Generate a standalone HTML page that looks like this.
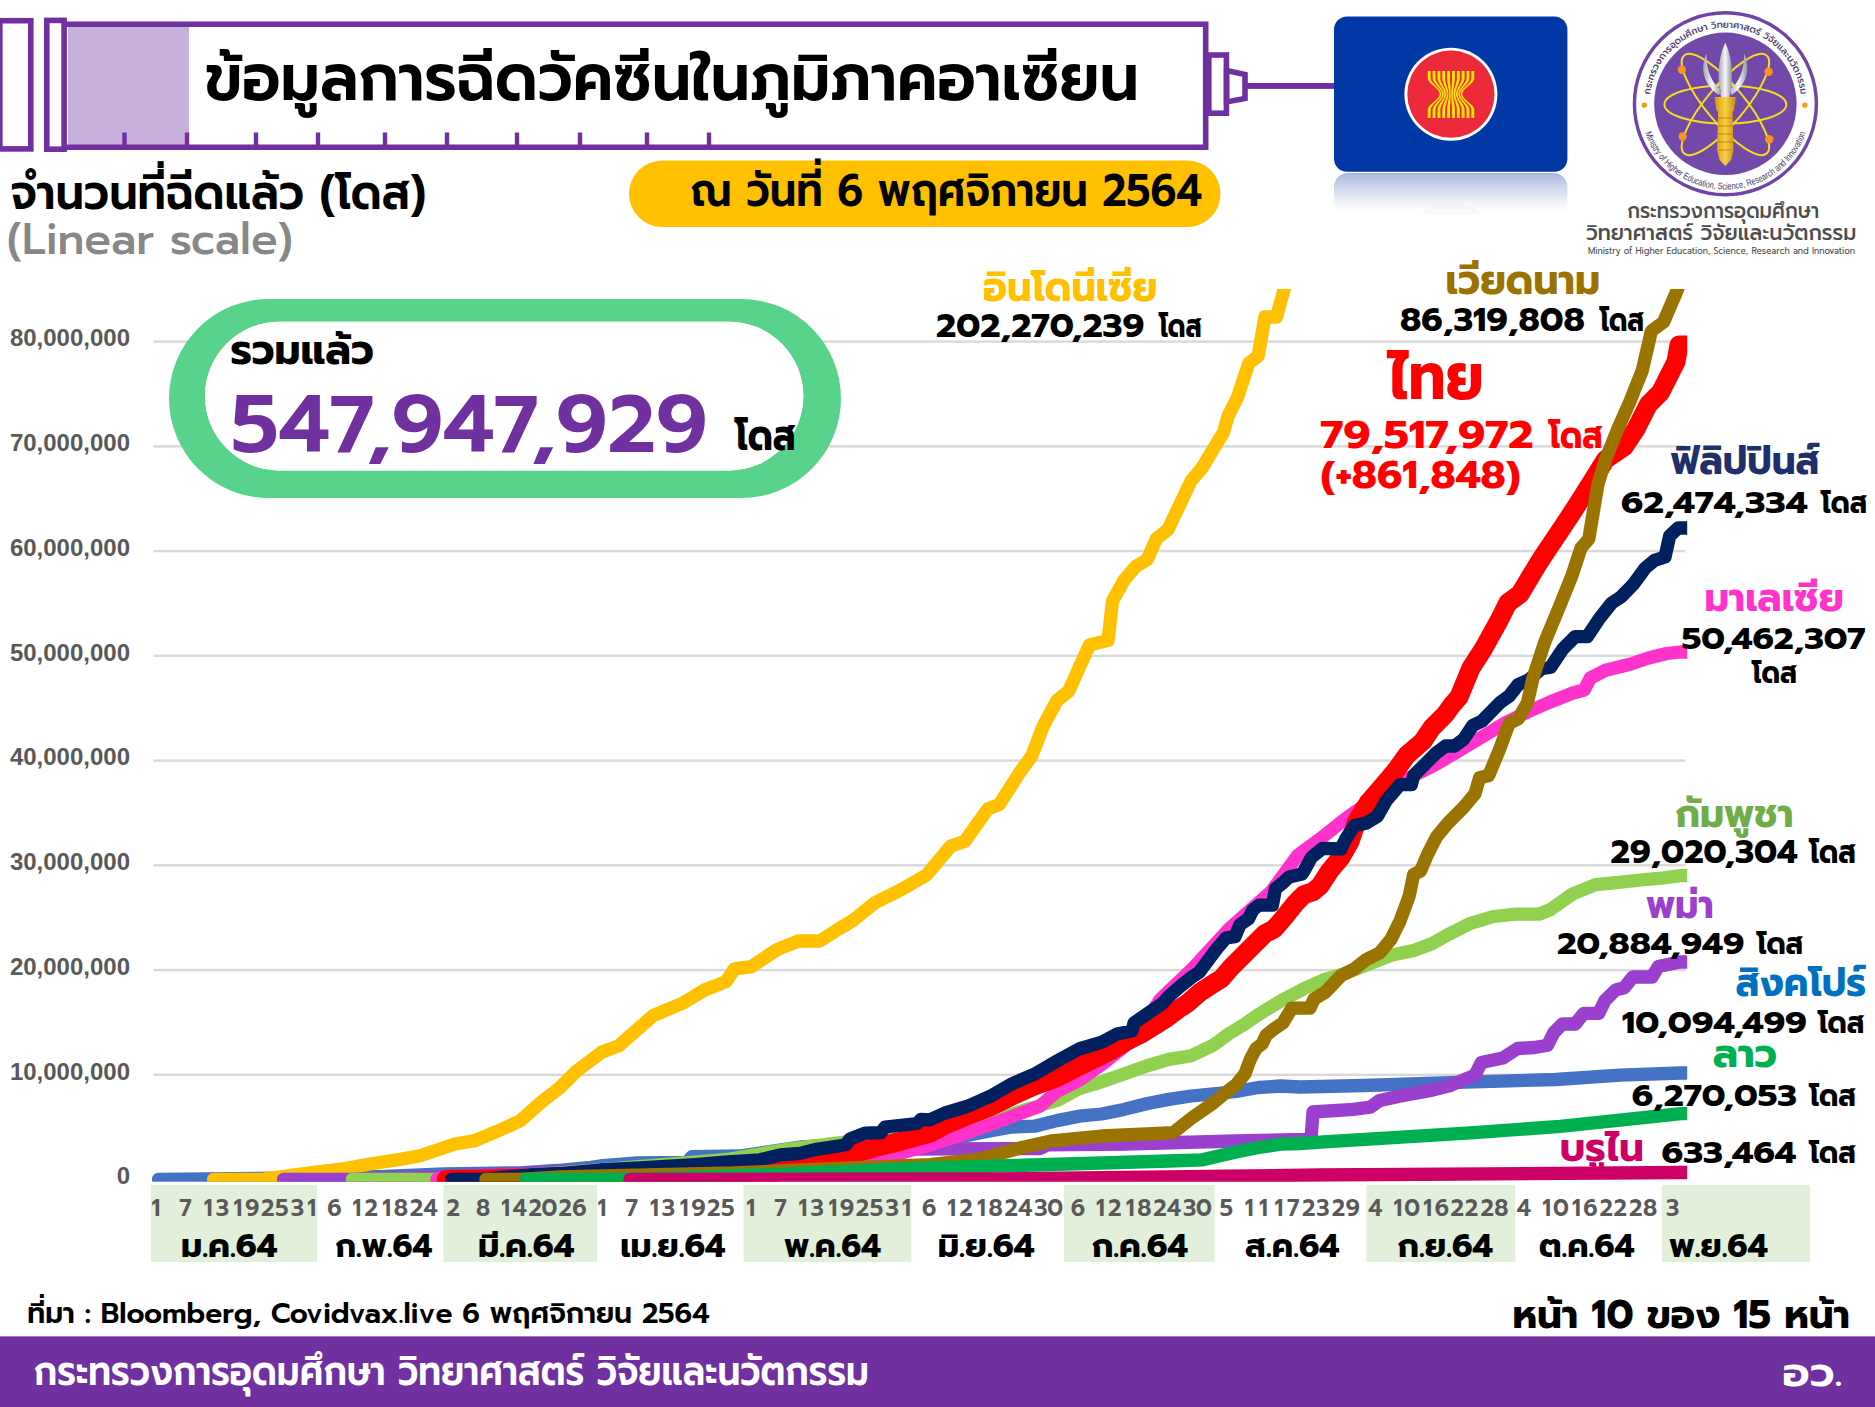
<!DOCTYPE html><html><head><meta charset="utf-8"><title>ข้อมูลการฉีดวัคซีนในภูมิภาคอาเซียน</title><style>html,body{margin:0;padding:0;background:#fff}svg{display:block}text{font-family:Prompt, 'Liberation Sans', 'Noto Sans CJK SC', sans-serif}</style></head><body>
<svg width="1875" height="1407" viewBox="0 0 1875 1407">
<rect width="1875" height="1407" fill="#fff"/>
<rect x="68" y="26" width="121" height="119" fill="#C8B0DD"/>
<rect x="-0.2" y="20.7" width="31" height="128.2" fill="none" stroke="#7030A0" stroke-width="5.6"/>
<rect x="46.8" y="20.4" width="17.3" height="128.8" fill="none" stroke="#7030A0" stroke-width="5.6"/>
<path d="M66 24.2 H1205.7 V147.3 H66" fill="none" stroke="#7030A0" stroke-width="5.6"/>
<rect x="122.3" y="132.5" width="4.4" height="13" fill="#7030A0"/>
<rect x="184.8" y="132.5" width="4.4" height="13" fill="#7030A0"/>
<rect x="253.8" y="132.5" width="4.4" height="13" fill="#7030A0"/>
<rect x="315.8" y="132.5" width="4.4" height="13" fill="#7030A0"/>
<rect x="382.8" y="132.5" width="4.4" height="13" fill="#7030A0"/>
<rect x="444.8" y="132.5" width="4.4" height="13" fill="#7030A0"/>
<rect x="514.8" y="132.5" width="4.4" height="13" fill="#7030A0"/>
<rect x="577.8" y="132.5" width="4.4" height="13" fill="#7030A0"/>
<rect x="644.8" y="132.5" width="4.4" height="13" fill="#7030A0"/>
<rect x="706.8" y="132.5" width="4.4" height="13" fill="#7030A0"/>
<rect x="1208.8" y="55" width="17.6" height="58.2" fill="none" stroke="#7030A0" stroke-width="5.6"/>
<path d="M1226.6 70.6 L1245 74.6 V98.4 L1226.6 101.9 Z" fill="none" stroke="#7030A0" stroke-width="5.6" stroke-linejoin="miter"/>
<rect x="1247" y="83" width="90" height="5.9" fill="#7030A0"/>
<defs><linearGradient id="refl" x1="0" y1="0" x2="0" y2="1"><stop offset="0" stop-color="#A6B7DD" stop-opacity="1"/><stop offset="0.5" stop-color="#D6DEF0" stop-opacity="0.8"/><stop offset="1" stop-color="#fff" stop-opacity="0"/></linearGradient><clipPath id="plot"><rect x="140" y="289" width="1547.2" height="892.8"/></clipPath></defs>
<path d="M1334 187 A14 14 0 0 1 1348 173 H1553.4 A14 14 0 0 1 1567.4 187 V217 H1334 Z" fill="url(#refl)"/>
<path d="M1422 215 A29 12 0 0 1 1480 215 Z" fill="#F6D6DA" opacity="0.18"/>
<rect x="1334" y="16.5" width="233.4" height="155.2" rx="13" fill="#0039A6"/>
<circle cx="1450.9" cy="94.2" r="46.5" fill="#fff"/><circle cx="1450.9" cy="94.2" r="43.6" fill="#EC2A39"/>
<path d="M1427.75 71.0 L1427.75 71.5 L1427.75 72.0 L1427.75 72.5 L1427.75 73.0 L1427.75 73.5 L1427.75 74.0 L1427.75 74.5 L1427.75 75.0 L1427.75 75.5 L1427.75 76.0 L1427.75 76.5 L1427.75 77.0 L1427.75 77.5 L1427.75 78.0 L1427.78 78.5 L1427.86 79.0 L1428.01 79.5 L1428.20 80.0 L1428.45 80.5 L1428.75 81.0 L1429.10 81.5 L1429.49 82.0 L1429.93 82.5 L1430.39 83.0 L1430.90 83.5 L1431.42 84.0 L1431.97 84.5 L1432.54 85.0 L1433.12 85.5 L1433.70 86.0 L1434.28 86.5 L1434.86 87.0 L1435.43 87.5 L1435.98 88.0 L1436.50 88.5 L1437.01 89.0 L1437.47 89.5 L1437.91 90.0 L1438.30 90.5 L1438.65 91.0 L1438.95 91.5 L1439.20 92.0 L1439.39 92.5 L1439.54 93.0 L1439.62 93.5 L1439.65 94.0 L1439.62 94.5 L1439.54 95.0 L1439.39 95.5 L1439.20 96.0 L1438.95 96.5 L1438.65 97.0 L1438.30 97.5 L1437.91 98.0 L1437.47 98.5 L1437.01 99.0 L1436.50 99.5 L1435.98 100.0 L1435.43 100.5 L1434.86 101.0 L1434.28 101.5 L1433.70 102.0 L1433.12 102.5 L1432.54 103.0 L1431.97 103.5 L1431.42 104.0 L1430.90 104.5 L1430.39 105.0 L1429.93 105.5 L1429.49 106.0 L1429.10 106.5 L1428.75 107.0 L1428.45 107.5 L1428.20 108.0 L1428.01 108.5 L1427.86 109.0 L1427.78 109.5 L1427.75 110.0 L1427.75 110.5 L1427.75 111.0 L1427.75 111.5 L1427.75 112.0 L1427.75 112.5 L1427.75 113.0 L1427.75 113.5 L1427.75 114.0 L1427.75 114.5 L1427.75 115.0 L1427.75 115.5 L1427.75 116.0 L1427.75 116.5 L1427.75 117.0 L1427.75 117.5 L1427.75 118.0 L1430.65 118.0 L1430.65 117.5 L1430.65 117.0 L1430.65 116.5 L1430.65 116.0 L1430.65 115.5 L1430.65 115.0 L1430.65 114.5 L1430.65 114.0 L1430.65 113.5 L1430.65 113.0 L1430.65 112.5 L1430.65 112.0 L1430.65 111.5 L1430.65 111.0 L1430.65 110.5 L1430.65 110.0 L1430.68 109.5 L1430.75 109.0 L1430.88 108.5 L1431.06 108.0 L1431.28 107.5 L1431.55 107.0 L1431.86 106.5 L1432.22 106.0 L1432.61 105.5 L1433.03 105.0 L1433.48 104.5 L1433.95 104.0 L1434.45 103.5 L1434.96 103.0 L1435.48 102.5 L1436.00 102.0 L1436.52 101.5 L1437.04 101.0 L1437.55 100.5 L1438.05 100.0 L1438.52 99.5 L1438.97 99.0 L1439.39 98.5 L1439.78 98.0 L1440.14 97.5 L1440.45 97.0 L1440.72 96.5 L1440.94 96.0 L1441.12 95.5 L1441.25 95.0 L1441.32 94.5 L1441.35 94.0 L1441.32 93.5 L1441.25 93.0 L1441.12 92.5 L1440.94 92.0 L1440.72 91.5 L1440.45 91.0 L1440.14 90.5 L1439.78 90.0 L1439.39 89.5 L1438.97 89.0 L1438.52 88.5 L1438.05 88.0 L1437.55 87.5 L1437.04 87.0 L1436.52 86.5 L1436.00 86.0 L1435.48 85.5 L1434.96 85.0 L1434.45 84.5 L1433.95 84.0 L1433.48 83.5 L1433.03 83.0 L1432.61 82.5 L1432.22 82.0 L1431.86 81.5 L1431.55 81.0 L1431.28 80.5 L1431.06 80.0 L1430.88 79.5 L1430.75 79.0 L1430.68 78.5 L1430.65 78.0 L1430.65 77.5 L1430.65 77.0 L1430.65 76.5 L1430.65 76.0 L1430.65 75.5 L1430.65 75.0 L1430.65 74.5 L1430.65 74.0 L1430.65 73.5 L1430.65 73.0 L1430.65 72.5 L1430.65 72.0 L1430.65 71.5 L1430.65 71.0 Z" fill="#FFE500"/><path d="M1432.59 71.0 L1432.59 71.5 L1432.59 72.0 L1432.59 72.5 L1432.59 73.0 L1432.59 73.5 L1432.59 74.0 L1432.59 74.5 L1432.59 75.0 L1432.59 75.5 L1432.59 76.0 L1432.59 76.5 L1432.59 77.0 L1432.59 77.5 L1432.59 78.0 L1432.62 78.5 L1432.68 79.0 L1432.80 79.5 L1432.95 80.0 L1433.15 80.5 L1433.39 81.0 L1433.66 81.5 L1433.97 82.0 L1434.31 82.5 L1434.68 83.0 L1435.08 83.5 L1435.49 84.0 L1435.93 84.5 L1436.37 85.0 L1436.83 85.5 L1437.29 86.0 L1437.75 86.5 L1438.20 87.0 L1438.65 87.5 L1439.09 88.0 L1439.50 88.5 L1439.90 89.0 L1440.27 89.5 L1440.61 90.0 L1440.92 90.5 L1441.19 91.0 L1441.43 91.5 L1441.63 92.0 L1441.78 92.5 L1441.89 93.0 L1441.96 93.5 L1441.98 94.0 L1441.96 94.5 L1441.89 95.0 L1441.78 95.5 L1441.63 96.0 L1441.43 96.5 L1441.19 97.0 L1440.92 97.5 L1440.61 98.0 L1440.27 98.5 L1439.90 99.0 L1439.50 99.5 L1439.09 100.0 L1438.65 100.5 L1438.20 101.0 L1437.75 101.5 L1437.29 102.0 L1436.83 102.5 L1436.37 103.0 L1435.93 103.5 L1435.49 104.0 L1435.08 104.5 L1434.68 105.0 L1434.31 105.5 L1433.97 106.0 L1433.66 106.5 L1433.39 107.0 L1433.15 107.5 L1432.95 108.0 L1432.80 108.5 L1432.68 109.0 L1432.62 109.5 L1432.59 110.0 L1432.59 110.5 L1432.59 111.0 L1432.59 111.5 L1432.59 112.0 L1432.59 112.5 L1432.59 113.0 L1432.59 113.5 L1432.59 114.0 L1432.59 114.5 L1432.59 115.0 L1432.59 115.5 L1432.59 116.0 L1432.59 116.5 L1432.59 117.0 L1432.59 117.5 L1432.59 118.0 L1435.49 118.0 L1435.49 117.5 L1435.49 117.0 L1435.49 116.5 L1435.49 116.0 L1435.49 115.5 L1435.49 115.0 L1435.49 114.5 L1435.49 114.0 L1435.49 113.5 L1435.49 113.0 L1435.49 112.5 L1435.49 112.0 L1435.49 111.5 L1435.49 111.0 L1435.49 110.5 L1435.49 110.0 L1435.51 109.5 L1435.57 109.0 L1435.67 108.5 L1435.81 108.0 L1435.98 107.5 L1436.18 107.0 L1436.42 106.5 L1436.69 106.0 L1436.99 105.5 L1437.31 105.0 L1437.66 104.5 L1438.02 104.0 L1438.40 103.5 L1438.79 103.0 L1439.19 102.5 L1439.59 102.0 L1439.99 101.5 L1440.39 101.0 L1440.78 100.5 L1441.16 100.0 L1441.52 99.5 L1441.86 99.0 L1442.19 98.5 L1442.48 98.0 L1442.75 97.5 L1442.99 97.0 L1443.20 96.5 L1443.37 96.0 L1443.51 95.5 L1443.60 95.0 L1443.66 94.5 L1443.68 94.0 L1443.66 93.5 L1443.60 93.0 L1443.51 92.5 L1443.37 92.0 L1443.20 91.5 L1442.99 91.0 L1442.75 90.5 L1442.48 90.0 L1442.19 89.5 L1441.86 89.0 L1441.52 88.5 L1441.16 88.0 L1440.78 87.5 L1440.39 87.0 L1439.99 86.5 L1439.59 86.0 L1439.19 85.5 L1438.79 85.0 L1438.40 84.5 L1438.02 84.0 L1437.66 83.5 L1437.31 83.0 L1436.99 82.5 L1436.69 82.0 L1436.42 81.5 L1436.18 81.0 L1435.98 80.5 L1435.81 80.0 L1435.67 79.5 L1435.57 79.0 L1435.51 78.5 L1435.49 78.0 L1435.49 77.5 L1435.49 77.0 L1435.49 76.5 L1435.49 76.0 L1435.49 75.5 L1435.49 75.0 L1435.49 74.5 L1435.49 74.0 L1435.49 73.5 L1435.49 73.0 L1435.49 72.5 L1435.49 72.0 L1435.49 71.5 L1435.49 71.0 Z" fill="#FFE500"/><path d="M1437.44 71.0 L1437.44 71.5 L1437.44 72.0 L1437.44 72.5 L1437.44 73.0 L1437.44 73.5 L1437.44 74.0 L1437.44 74.5 L1437.44 75.0 L1437.44 75.5 L1437.44 76.0 L1437.44 76.5 L1437.44 77.0 L1437.44 77.5 L1437.44 78.0 L1437.46 78.5 L1437.50 79.0 L1437.59 79.5 L1437.70 80.0 L1437.84 80.5 L1438.02 81.0 L1438.22 81.5 L1438.45 82.0 L1438.70 82.5 L1438.97 83.0 L1439.26 83.5 L1439.56 84.0 L1439.88 84.5 L1440.21 85.0 L1440.54 85.5 L1440.88 86.0 L1441.21 86.5 L1441.55 87.0 L1441.88 87.5 L1442.19 88.0 L1442.50 88.5 L1442.79 89.0 L1443.06 89.5 L1443.31 90.0 L1443.54 90.5 L1443.74 91.0 L1443.91 91.5 L1444.05 92.0 L1444.17 92.5 L1444.25 93.0 L1444.30 93.5 L1444.32 94.0 L1444.30 94.5 L1444.25 95.0 L1444.17 95.5 L1444.05 96.0 L1443.91 96.5 L1443.74 97.0 L1443.54 97.5 L1443.31 98.0 L1443.06 98.5 L1442.79 99.0 L1442.50 99.5 L1442.19 100.0 L1441.88 100.5 L1441.55 101.0 L1441.21 101.5 L1440.88 102.0 L1440.54 102.5 L1440.21 103.0 L1439.88 103.5 L1439.56 104.0 L1439.26 104.5 L1438.97 105.0 L1438.70 105.5 L1438.45 106.0 L1438.22 106.5 L1438.02 107.0 L1437.84 107.5 L1437.70 108.0 L1437.59 108.5 L1437.50 109.0 L1437.46 109.5 L1437.44 110.0 L1437.44 110.5 L1437.44 111.0 L1437.44 111.5 L1437.44 112.0 L1437.44 112.5 L1437.44 113.0 L1437.44 113.5 L1437.44 114.0 L1437.44 114.5 L1437.44 115.0 L1437.44 115.5 L1437.44 116.0 L1437.44 116.5 L1437.44 117.0 L1437.44 117.5 L1437.44 118.0 L1440.34 118.0 L1440.34 117.5 L1440.34 117.0 L1440.34 116.5 L1440.34 116.0 L1440.34 115.5 L1440.34 115.0 L1440.34 114.5 L1440.34 114.0 L1440.34 113.5 L1440.34 113.0 L1440.34 112.5 L1440.34 112.0 L1440.34 111.5 L1440.34 111.0 L1440.34 110.5 L1440.34 110.0 L1440.35 109.5 L1440.39 109.0 L1440.46 108.5 L1440.55 108.0 L1440.67 107.5 L1440.82 107.0 L1440.98 106.5 L1441.17 106.0 L1441.38 105.5 L1441.60 105.0 L1441.84 104.5 L1442.09 104.0 L1442.35 103.5 L1442.62 103.0 L1442.90 102.5 L1443.18 102.0 L1443.46 101.5 L1443.73 101.0 L1444.00 100.5 L1444.26 100.0 L1444.52 99.5 L1444.75 99.0 L1444.98 98.5 L1445.19 98.0 L1445.37 97.5 L1445.54 97.0 L1445.68 96.5 L1445.80 96.0 L1445.89 95.5 L1445.96 95.0 L1446.00 94.5 L1446.02 94.0 L1446.00 93.5 L1445.96 93.0 L1445.89 92.5 L1445.80 92.0 L1445.68 91.5 L1445.54 91.0 L1445.37 90.5 L1445.19 90.0 L1444.98 89.5 L1444.75 89.0 L1444.52 88.5 L1444.26 88.0 L1444.00 87.5 L1443.73 87.0 L1443.46 86.5 L1443.18 86.0 L1442.90 85.5 L1442.62 85.0 L1442.35 84.5 L1442.09 84.0 L1441.84 83.5 L1441.60 83.0 L1441.38 82.5 L1441.17 82.0 L1440.98 81.5 L1440.82 81.0 L1440.67 80.5 L1440.55 80.0 L1440.46 79.5 L1440.39 79.0 L1440.35 78.5 L1440.34 78.0 L1440.34 77.5 L1440.34 77.0 L1440.34 76.5 L1440.34 76.0 L1440.34 75.5 L1440.34 75.0 L1440.34 74.5 L1440.34 74.0 L1440.34 73.5 L1440.34 73.0 L1440.34 72.5 L1440.34 72.0 L1440.34 71.5 L1440.34 71.0 Z" fill="#FFE500"/><path d="M1442.28 71.0 L1442.28 71.5 L1442.28 72.0 L1442.28 72.5 L1442.28 73.0 L1442.28 73.5 L1442.28 74.0 L1442.28 74.5 L1442.28 75.0 L1442.28 75.5 L1442.28 76.0 L1442.28 76.5 L1442.28 77.0 L1442.28 77.5 L1442.28 78.0 L1442.29 78.5 L1442.33 79.0 L1442.38 79.5 L1442.45 80.0 L1442.54 80.5 L1442.65 81.0 L1442.78 81.5 L1442.92 82.0 L1443.08 82.5 L1443.25 83.0 L1443.44 83.5 L1443.63 84.0 L1443.83 84.5 L1444.04 85.0 L1444.25 85.5 L1444.47 86.0 L1444.68 86.5 L1444.89 87.0 L1445.10 87.5 L1445.30 88.0 L1445.50 88.5 L1445.68 89.0 L1445.85 89.5 L1446.01 90.0 L1446.15 90.5 L1446.28 91.0 L1446.39 91.5 L1446.48 92.0 L1446.56 92.5 L1446.61 93.0 L1446.64 93.5 L1446.65 94.0 L1446.64 94.5 L1446.61 95.0 L1446.56 95.5 L1446.48 96.0 L1446.39 96.5 L1446.28 97.0 L1446.15 97.5 L1446.01 98.0 L1445.85 98.5 L1445.68 99.0 L1445.50 99.5 L1445.30 100.0 L1445.10 100.5 L1444.89 101.0 L1444.68 101.5 L1444.47 102.0 L1444.25 102.5 L1444.04 103.0 L1443.83 103.5 L1443.63 104.0 L1443.44 104.5 L1443.25 105.0 L1443.08 105.5 L1442.92 106.0 L1442.78 106.5 L1442.65 107.0 L1442.54 107.5 L1442.45 108.0 L1442.38 108.5 L1442.33 109.0 L1442.29 109.5 L1442.28 110.0 L1442.28 110.5 L1442.28 111.0 L1442.28 111.5 L1442.28 112.0 L1442.28 112.5 L1442.28 113.0 L1442.28 113.5 L1442.28 114.0 L1442.28 114.5 L1442.28 115.0 L1442.28 115.5 L1442.28 116.0 L1442.28 116.5 L1442.28 117.0 L1442.28 117.5 L1442.28 118.0 L1445.18 118.0 L1445.18 117.5 L1445.18 117.0 L1445.18 116.5 L1445.18 116.0 L1445.18 115.5 L1445.18 115.0 L1445.18 114.5 L1445.18 114.0 L1445.18 113.5 L1445.18 113.0 L1445.18 112.5 L1445.18 112.0 L1445.18 111.5 L1445.18 111.0 L1445.18 110.5 L1445.18 110.0 L1445.19 109.5 L1445.21 109.0 L1445.25 108.5 L1445.30 108.0 L1445.37 107.5 L1445.45 107.0 L1445.54 106.5 L1445.65 106.0 L1445.76 105.5 L1445.89 105.0 L1446.02 104.5 L1446.16 104.0 L1446.31 103.5 L1446.46 103.0 L1446.61 102.5 L1446.77 102.0 L1446.92 101.5 L1447.08 101.0 L1447.23 100.5 L1447.37 100.0 L1447.51 99.5 L1447.65 99.0 L1447.77 98.5 L1447.89 98.0 L1447.99 97.5 L1448.08 97.0 L1448.16 96.5 L1448.23 96.0 L1448.28 95.5 L1448.32 95.0 L1448.34 94.5 L1448.35 94.0 L1448.34 93.5 L1448.32 93.0 L1448.28 92.5 L1448.23 92.0 L1448.16 91.5 L1448.08 91.0 L1447.99 90.5 L1447.89 90.0 L1447.77 89.5 L1447.65 89.0 L1447.51 88.5 L1447.37 88.0 L1447.23 87.5 L1447.08 87.0 L1446.92 86.5 L1446.77 86.0 L1446.61 85.5 L1446.46 85.0 L1446.31 84.5 L1446.16 84.0 L1446.02 83.5 L1445.89 83.0 L1445.76 82.5 L1445.65 82.0 L1445.54 81.5 L1445.45 81.0 L1445.37 80.5 L1445.30 80.0 L1445.25 79.5 L1445.21 79.0 L1445.19 78.5 L1445.18 78.0 L1445.18 77.5 L1445.18 77.0 L1445.18 76.5 L1445.18 76.0 L1445.18 75.5 L1445.18 75.0 L1445.18 74.5 L1445.18 74.0 L1445.18 73.5 L1445.18 73.0 L1445.18 72.5 L1445.18 72.0 L1445.18 71.5 L1445.18 71.0 Z" fill="#FFE500"/><path d="M1447.13 71.0 L1447.13 71.5 L1447.13 72.0 L1447.13 72.5 L1447.13 73.0 L1447.13 73.5 L1447.13 74.0 L1447.13 74.5 L1447.13 75.0 L1447.13 75.5 L1447.13 76.0 L1447.13 76.5 L1447.13 77.0 L1447.13 77.5 L1447.13 78.0 L1447.13 78.5 L1447.15 79.0 L1447.17 79.5 L1447.20 80.0 L1447.24 80.5 L1447.28 81.0 L1447.34 81.5 L1447.40 82.0 L1447.47 82.5 L1447.54 83.0 L1447.62 83.5 L1447.70 84.0 L1447.79 84.5 L1447.87 85.0 L1447.96 85.5 L1448.06 86.0 L1448.15 86.5 L1448.24 87.0 L1448.32 87.5 L1448.41 88.0 L1448.49 88.5 L1448.57 89.0 L1448.64 89.5 L1448.71 90.0 L1448.77 90.5 L1448.83 91.0 L1448.87 91.5 L1448.91 92.0 L1448.94 92.5 L1448.97 93.0 L1448.98 93.5 L1448.98 94.0 L1448.98 94.5 L1448.97 95.0 L1448.94 95.5 L1448.91 96.0 L1448.87 96.5 L1448.83 97.0 L1448.77 97.5 L1448.71 98.0 L1448.64 98.5 L1448.57 99.0 L1448.49 99.5 L1448.41 100.0 L1448.32 100.5 L1448.24 101.0 L1448.15 101.5 L1448.06 102.0 L1447.96 102.5 L1447.87 103.0 L1447.79 103.5 L1447.70 104.0 L1447.62 104.5 L1447.54 105.0 L1447.47 105.5 L1447.40 106.0 L1447.34 106.5 L1447.28 107.0 L1447.24 107.5 L1447.20 108.0 L1447.17 108.5 L1447.15 109.0 L1447.13 109.5 L1447.13 110.0 L1447.13 110.5 L1447.13 111.0 L1447.13 111.5 L1447.13 112.0 L1447.13 112.5 L1447.13 113.0 L1447.13 113.5 L1447.13 114.0 L1447.13 114.5 L1447.13 115.0 L1447.13 115.5 L1447.13 116.0 L1447.13 116.5 L1447.13 117.0 L1447.13 117.5 L1447.13 118.0 L1450.03 118.0 L1450.03 117.5 L1450.03 117.0 L1450.03 116.5 L1450.03 116.0 L1450.03 115.5 L1450.03 115.0 L1450.03 114.5 L1450.03 114.0 L1450.03 113.5 L1450.03 113.0 L1450.03 112.5 L1450.03 112.0 L1450.03 111.5 L1450.03 111.0 L1450.03 110.5 L1450.03 110.0 L1450.03 109.5 L1450.03 109.0 L1450.04 108.5 L1450.05 108.0 L1450.07 107.5 L1450.08 107.0 L1450.10 106.5 L1450.12 106.0 L1450.15 105.5 L1450.17 105.0 L1450.20 104.5 L1450.23 104.0 L1450.26 103.5 L1450.29 103.0 L1450.32 102.5 L1450.36 102.0 L1450.39 101.5 L1450.42 101.0 L1450.45 100.5 L1450.48 100.0 L1450.51 99.5 L1450.54 99.0 L1450.56 98.5 L1450.59 98.0 L1450.61 97.5 L1450.63 97.0 L1450.64 96.5 L1450.66 96.0 L1450.67 95.5 L1450.68 95.0 L1450.68 94.5 L1450.68 94.0 L1450.68 93.5 L1450.68 93.0 L1450.67 92.5 L1450.66 92.0 L1450.64 91.5 L1450.63 91.0 L1450.61 90.5 L1450.59 90.0 L1450.56 89.5 L1450.54 89.0 L1450.51 88.5 L1450.48 88.0 L1450.45 87.5 L1450.42 87.0 L1450.39 86.5 L1450.36 86.0 L1450.32 85.5 L1450.29 85.0 L1450.26 84.5 L1450.23 84.0 L1450.20 83.5 L1450.17 83.0 L1450.15 82.5 L1450.12 82.0 L1450.10 81.5 L1450.08 81.0 L1450.07 80.5 L1450.05 80.0 L1450.04 79.5 L1450.03 79.0 L1450.03 78.5 L1450.03 78.0 L1450.03 77.5 L1450.03 77.0 L1450.03 76.5 L1450.03 76.0 L1450.03 75.5 L1450.03 75.0 L1450.03 74.5 L1450.03 74.0 L1450.03 73.5 L1450.03 73.0 L1450.03 72.5 L1450.03 72.0 L1450.03 71.5 L1450.03 71.0 Z" fill="#FFE500"/><path d="M1451.97 71.0 L1451.97 71.5 L1451.97 72.0 L1451.97 72.5 L1451.97 73.0 L1451.97 73.5 L1451.97 74.0 L1451.97 74.5 L1451.97 75.0 L1451.97 75.5 L1451.97 76.0 L1451.97 76.5 L1451.97 77.0 L1451.97 77.5 L1451.97 78.0 L1451.97 78.5 L1451.97 79.0 L1451.96 79.5 L1451.95 80.0 L1451.93 80.5 L1451.92 81.0 L1451.90 81.5 L1451.88 82.0 L1451.85 82.5 L1451.83 83.0 L1451.80 83.5 L1451.77 84.0 L1451.74 84.5 L1451.71 85.0 L1451.68 85.5 L1451.64 86.0 L1451.61 86.5 L1451.58 87.0 L1451.55 87.5 L1451.52 88.0 L1451.49 88.5 L1451.46 89.0 L1451.44 89.5 L1451.41 90.0 L1451.39 90.5 L1451.37 91.0 L1451.36 91.5 L1451.34 92.0 L1451.33 92.5 L1451.32 93.0 L1451.32 93.5 L1451.32 94.0 L1451.32 94.5 L1451.32 95.0 L1451.33 95.5 L1451.34 96.0 L1451.36 96.5 L1451.37 97.0 L1451.39 97.5 L1451.41 98.0 L1451.44 98.5 L1451.46 99.0 L1451.49 99.5 L1451.52 100.0 L1451.55 100.5 L1451.58 101.0 L1451.61 101.5 L1451.64 102.0 L1451.68 102.5 L1451.71 103.0 L1451.74 103.5 L1451.77 104.0 L1451.80 104.5 L1451.83 105.0 L1451.85 105.5 L1451.88 106.0 L1451.90 106.5 L1451.92 107.0 L1451.93 107.5 L1451.95 108.0 L1451.96 108.5 L1451.97 109.0 L1451.97 109.5 L1451.97 110.0 L1451.97 110.5 L1451.97 111.0 L1451.97 111.5 L1451.97 112.0 L1451.97 112.5 L1451.97 113.0 L1451.97 113.5 L1451.97 114.0 L1451.97 114.5 L1451.97 115.0 L1451.97 115.5 L1451.97 116.0 L1451.97 116.5 L1451.97 117.0 L1451.97 117.5 L1451.97 118.0 L1454.87 118.0 L1454.87 117.5 L1454.87 117.0 L1454.87 116.5 L1454.87 116.0 L1454.87 115.5 L1454.87 115.0 L1454.87 114.5 L1454.87 114.0 L1454.87 113.5 L1454.87 113.0 L1454.87 112.5 L1454.87 112.0 L1454.87 111.5 L1454.87 111.0 L1454.87 110.5 L1454.87 110.0 L1454.87 109.5 L1454.85 109.0 L1454.83 108.5 L1454.80 108.0 L1454.76 107.5 L1454.72 107.0 L1454.66 106.5 L1454.60 106.0 L1454.53 105.5 L1454.46 105.0 L1454.38 104.5 L1454.30 104.0 L1454.21 103.5 L1454.13 103.0 L1454.04 102.5 L1453.94 102.0 L1453.85 101.5 L1453.76 101.0 L1453.68 100.5 L1453.59 100.0 L1453.51 99.5 L1453.43 99.0 L1453.36 98.5 L1453.29 98.0 L1453.23 97.5 L1453.17 97.0 L1453.13 96.5 L1453.09 96.0 L1453.06 95.5 L1453.03 95.0 L1453.02 94.5 L1453.02 94.0 L1453.02 93.5 L1453.03 93.0 L1453.06 92.5 L1453.09 92.0 L1453.13 91.5 L1453.17 91.0 L1453.23 90.5 L1453.29 90.0 L1453.36 89.5 L1453.43 89.0 L1453.51 88.5 L1453.59 88.0 L1453.68 87.5 L1453.76 87.0 L1453.85 86.5 L1453.94 86.0 L1454.04 85.5 L1454.13 85.0 L1454.21 84.5 L1454.30 84.0 L1454.38 83.5 L1454.46 83.0 L1454.53 82.5 L1454.60 82.0 L1454.66 81.5 L1454.72 81.0 L1454.76 80.5 L1454.80 80.0 L1454.83 79.5 L1454.85 79.0 L1454.87 78.5 L1454.87 78.0 L1454.87 77.5 L1454.87 77.0 L1454.87 76.5 L1454.87 76.0 L1454.87 75.5 L1454.87 75.0 L1454.87 74.5 L1454.87 74.0 L1454.87 73.5 L1454.87 73.0 L1454.87 72.5 L1454.87 72.0 L1454.87 71.5 L1454.87 71.0 Z" fill="#FFE500"/><path d="M1456.82 71.0 L1456.82 71.5 L1456.82 72.0 L1456.82 72.5 L1456.82 73.0 L1456.82 73.5 L1456.82 74.0 L1456.82 74.5 L1456.82 75.0 L1456.82 75.5 L1456.82 76.0 L1456.82 76.5 L1456.82 77.0 L1456.82 77.5 L1456.82 78.0 L1456.81 78.5 L1456.79 79.0 L1456.75 79.5 L1456.70 80.0 L1456.63 80.5 L1456.55 81.0 L1456.46 81.5 L1456.35 82.0 L1456.24 82.5 L1456.11 83.0 L1455.98 83.5 L1455.84 84.0 L1455.69 84.5 L1455.54 85.0 L1455.39 85.5 L1455.23 86.0 L1455.08 86.5 L1454.92 87.0 L1454.77 87.5 L1454.63 88.0 L1454.49 88.5 L1454.35 89.0 L1454.23 89.5 L1454.11 90.0 L1454.01 90.5 L1453.92 91.0 L1453.84 91.5 L1453.77 92.0 L1453.72 92.5 L1453.68 93.0 L1453.66 93.5 L1453.65 94.0 L1453.66 94.5 L1453.68 95.0 L1453.72 95.5 L1453.77 96.0 L1453.84 96.5 L1453.92 97.0 L1454.01 97.5 L1454.11 98.0 L1454.23 98.5 L1454.35 99.0 L1454.49 99.5 L1454.63 100.0 L1454.77 100.5 L1454.92 101.0 L1455.08 101.5 L1455.23 102.0 L1455.39 102.5 L1455.54 103.0 L1455.69 103.5 L1455.84 104.0 L1455.98 104.5 L1456.11 105.0 L1456.24 105.5 L1456.35 106.0 L1456.46 106.5 L1456.55 107.0 L1456.63 107.5 L1456.70 108.0 L1456.75 108.5 L1456.79 109.0 L1456.81 109.5 L1456.82 110.0 L1456.82 110.5 L1456.82 111.0 L1456.82 111.5 L1456.82 112.0 L1456.82 112.5 L1456.82 113.0 L1456.82 113.5 L1456.82 114.0 L1456.82 114.5 L1456.82 115.0 L1456.82 115.5 L1456.82 116.0 L1456.82 116.5 L1456.82 117.0 L1456.82 117.5 L1456.82 118.0 L1459.72 118.0 L1459.72 117.5 L1459.72 117.0 L1459.72 116.5 L1459.72 116.0 L1459.72 115.5 L1459.72 115.0 L1459.72 114.5 L1459.72 114.0 L1459.72 113.5 L1459.72 113.0 L1459.72 112.5 L1459.72 112.0 L1459.72 111.5 L1459.72 111.0 L1459.72 110.5 L1459.72 110.0 L1459.71 109.5 L1459.67 109.0 L1459.62 108.5 L1459.55 108.0 L1459.46 107.5 L1459.35 107.0 L1459.22 106.5 L1459.08 106.0 L1458.92 105.5 L1458.75 105.0 L1458.56 104.5 L1458.37 104.0 L1458.17 103.5 L1457.96 103.0 L1457.75 102.5 L1457.53 102.0 L1457.32 101.5 L1457.11 101.0 L1456.90 100.5 L1456.70 100.0 L1456.50 99.5 L1456.32 99.0 L1456.15 98.5 L1455.99 98.0 L1455.85 97.5 L1455.72 97.0 L1455.61 96.5 L1455.52 96.0 L1455.44 95.5 L1455.39 95.0 L1455.36 94.5 L1455.35 94.0 L1455.36 93.5 L1455.39 93.0 L1455.44 92.5 L1455.52 92.0 L1455.61 91.5 L1455.72 91.0 L1455.85 90.5 L1455.99 90.0 L1456.15 89.5 L1456.32 89.0 L1456.50 88.5 L1456.70 88.0 L1456.90 87.5 L1457.11 87.0 L1457.32 86.5 L1457.53 86.0 L1457.75 85.5 L1457.96 85.0 L1458.17 84.5 L1458.37 84.0 L1458.56 83.5 L1458.75 83.0 L1458.92 82.5 L1459.08 82.0 L1459.22 81.5 L1459.35 81.0 L1459.46 80.5 L1459.55 80.0 L1459.62 79.5 L1459.67 79.0 L1459.71 78.5 L1459.72 78.0 L1459.72 77.5 L1459.72 77.0 L1459.72 76.5 L1459.72 76.0 L1459.72 75.5 L1459.72 75.0 L1459.72 74.5 L1459.72 74.0 L1459.72 73.5 L1459.72 73.0 L1459.72 72.5 L1459.72 72.0 L1459.72 71.5 L1459.72 71.0 Z" fill="#FFE500"/><path d="M1461.66 71.0 L1461.66 71.5 L1461.66 72.0 L1461.66 72.5 L1461.66 73.0 L1461.66 73.5 L1461.66 74.0 L1461.66 74.5 L1461.66 75.0 L1461.66 75.5 L1461.66 76.0 L1461.66 76.5 L1461.66 77.0 L1461.66 77.5 L1461.66 78.0 L1461.65 78.5 L1461.61 79.0 L1461.54 79.5 L1461.45 80.0 L1461.33 80.5 L1461.18 81.0 L1461.02 81.5 L1460.83 82.0 L1460.62 82.5 L1460.40 83.0 L1460.16 83.5 L1459.91 84.0 L1459.65 84.5 L1459.38 85.0 L1459.10 85.5 L1458.82 86.0 L1458.54 86.5 L1458.27 87.0 L1458.00 87.5 L1457.74 88.0 L1457.48 88.5 L1457.25 89.0 L1457.02 89.5 L1456.81 90.0 L1456.63 90.5 L1456.46 91.0 L1456.32 91.5 L1456.20 92.0 L1456.11 92.5 L1456.04 93.0 L1456.00 93.5 L1455.98 94.0 L1456.00 94.5 L1456.04 95.0 L1456.11 95.5 L1456.20 96.0 L1456.32 96.5 L1456.46 97.0 L1456.63 97.5 L1456.81 98.0 L1457.02 98.5 L1457.25 99.0 L1457.48 99.5 L1457.74 100.0 L1458.00 100.5 L1458.27 101.0 L1458.54 101.5 L1458.82 102.0 L1459.10 102.5 L1459.38 103.0 L1459.65 103.5 L1459.91 104.0 L1460.16 104.5 L1460.40 105.0 L1460.62 105.5 L1460.83 106.0 L1461.02 106.5 L1461.18 107.0 L1461.33 107.5 L1461.45 108.0 L1461.54 108.5 L1461.61 109.0 L1461.65 109.5 L1461.66 110.0 L1461.66 110.5 L1461.66 111.0 L1461.66 111.5 L1461.66 112.0 L1461.66 112.5 L1461.66 113.0 L1461.66 113.5 L1461.66 114.0 L1461.66 114.5 L1461.66 115.0 L1461.66 115.5 L1461.66 116.0 L1461.66 116.5 L1461.66 117.0 L1461.66 117.5 L1461.66 118.0 L1464.56 118.0 L1464.56 117.5 L1464.56 117.0 L1464.56 116.5 L1464.56 116.0 L1464.56 115.5 L1464.56 115.0 L1464.56 114.5 L1464.56 114.0 L1464.56 113.5 L1464.56 113.0 L1464.56 112.5 L1464.56 112.0 L1464.56 111.5 L1464.56 111.0 L1464.56 110.5 L1464.56 110.0 L1464.54 109.5 L1464.50 109.0 L1464.41 108.5 L1464.30 108.0 L1464.16 107.5 L1463.98 107.0 L1463.78 106.5 L1463.55 106.0 L1463.30 105.5 L1463.03 105.0 L1462.74 104.5 L1462.44 104.0 L1462.12 103.5 L1461.79 103.0 L1461.46 102.5 L1461.12 102.0 L1460.79 101.5 L1460.45 101.0 L1460.12 100.5 L1459.81 100.0 L1459.50 99.5 L1459.21 99.0 L1458.94 98.5 L1458.69 98.0 L1458.46 97.5 L1458.26 97.0 L1458.09 96.5 L1457.95 96.0 L1457.83 95.5 L1457.75 95.0 L1457.70 94.5 L1457.68 94.0 L1457.70 93.5 L1457.75 93.0 L1457.83 92.5 L1457.95 92.0 L1458.09 91.5 L1458.26 91.0 L1458.46 90.5 L1458.69 90.0 L1458.94 89.5 L1459.21 89.0 L1459.50 88.5 L1459.81 88.0 L1460.12 87.5 L1460.45 87.0 L1460.79 86.5 L1461.12 86.0 L1461.46 85.5 L1461.79 85.0 L1462.12 84.5 L1462.44 84.0 L1462.74 83.5 L1463.03 83.0 L1463.30 82.5 L1463.55 82.0 L1463.78 81.5 L1463.98 81.0 L1464.16 80.5 L1464.30 80.0 L1464.41 79.5 L1464.50 79.0 L1464.54 78.5 L1464.56 78.0 L1464.56 77.5 L1464.56 77.0 L1464.56 76.5 L1464.56 76.0 L1464.56 75.5 L1464.56 75.0 L1464.56 74.5 L1464.56 74.0 L1464.56 73.5 L1464.56 73.0 L1464.56 72.5 L1464.56 72.0 L1464.56 71.5 L1464.56 71.0 Z" fill="#FFE500"/><path d="M1466.51 71.0 L1466.51 71.5 L1466.51 72.0 L1466.51 72.5 L1466.51 73.0 L1466.51 73.5 L1466.51 74.0 L1466.51 74.5 L1466.51 75.0 L1466.51 75.5 L1466.51 76.0 L1466.51 76.5 L1466.51 77.0 L1466.51 77.5 L1466.51 78.0 L1466.49 78.5 L1466.43 79.0 L1466.33 79.5 L1466.19 80.0 L1466.02 80.5 L1465.82 81.0 L1465.58 81.5 L1465.31 82.0 L1465.01 82.5 L1464.69 83.0 L1464.34 83.5 L1463.98 84.0 L1463.60 84.5 L1463.21 85.0 L1462.81 85.5 L1462.41 86.0 L1462.01 86.5 L1461.61 87.0 L1461.22 87.5 L1460.84 88.0 L1460.48 88.5 L1460.14 89.0 L1459.81 89.5 L1459.52 90.0 L1459.25 90.5 L1459.01 91.0 L1458.80 91.5 L1458.63 92.0 L1458.49 92.5 L1458.40 93.0 L1458.34 93.5 L1458.32 94.0 L1458.34 94.5 L1458.40 95.0 L1458.49 95.5 L1458.63 96.0 L1458.80 96.5 L1459.01 97.0 L1459.25 97.5 L1459.52 98.0 L1459.81 98.5 L1460.14 99.0 L1460.48 99.5 L1460.84 100.0 L1461.22 100.5 L1461.61 101.0 L1462.01 101.5 L1462.41 102.0 L1462.81 102.5 L1463.21 103.0 L1463.60 103.5 L1463.98 104.0 L1464.34 104.5 L1464.69 105.0 L1465.01 105.5 L1465.31 106.0 L1465.58 106.5 L1465.82 107.0 L1466.02 107.5 L1466.19 108.0 L1466.33 108.5 L1466.43 109.0 L1466.49 109.5 L1466.51 110.0 L1466.51 110.5 L1466.51 111.0 L1466.51 111.5 L1466.51 112.0 L1466.51 112.5 L1466.51 113.0 L1466.51 113.5 L1466.51 114.0 L1466.51 114.5 L1466.51 115.0 L1466.51 115.5 L1466.51 116.0 L1466.51 116.5 L1466.51 117.0 L1466.51 117.5 L1466.51 118.0 L1469.41 118.0 L1469.41 117.5 L1469.41 117.0 L1469.41 116.5 L1469.41 116.0 L1469.41 115.5 L1469.41 115.0 L1469.41 114.5 L1469.41 114.0 L1469.41 113.5 L1469.41 113.0 L1469.41 112.5 L1469.41 112.0 L1469.41 111.5 L1469.41 111.0 L1469.41 110.5 L1469.41 110.0 L1469.38 109.5 L1469.32 109.0 L1469.20 108.5 L1469.05 108.0 L1468.85 107.5 L1468.61 107.0 L1468.34 106.5 L1468.03 106.0 L1467.69 105.5 L1467.32 105.0 L1466.92 104.5 L1466.51 104.0 L1466.07 103.5 L1465.63 103.0 L1465.17 102.5 L1464.71 102.0 L1464.25 101.5 L1463.80 101.0 L1463.35 100.5 L1462.91 100.0 L1462.50 99.5 L1462.10 99.0 L1461.73 98.5 L1461.39 98.0 L1461.08 97.5 L1460.81 97.0 L1460.57 96.5 L1460.37 96.0 L1460.22 95.5 L1460.11 95.0 L1460.04 94.5 L1460.02 94.0 L1460.04 93.5 L1460.11 93.0 L1460.22 92.5 L1460.37 92.0 L1460.57 91.5 L1460.81 91.0 L1461.08 90.5 L1461.39 90.0 L1461.73 89.5 L1462.10 89.0 L1462.50 88.5 L1462.91 88.0 L1463.35 87.5 L1463.80 87.0 L1464.25 86.5 L1464.71 86.0 L1465.17 85.5 L1465.63 85.0 L1466.07 84.5 L1466.51 84.0 L1466.92 83.5 L1467.32 83.0 L1467.69 82.5 L1468.03 82.0 L1468.34 81.5 L1468.61 81.0 L1468.85 80.5 L1469.05 80.0 L1469.20 79.5 L1469.32 79.0 L1469.38 78.5 L1469.41 78.0 L1469.41 77.5 L1469.41 77.0 L1469.41 76.5 L1469.41 76.0 L1469.41 75.5 L1469.41 75.0 L1469.41 74.5 L1469.41 74.0 L1469.41 73.5 L1469.41 73.0 L1469.41 72.5 L1469.41 72.0 L1469.41 71.5 L1469.41 71.0 Z" fill="#FFE500"/><path d="M1471.35 71.0 L1471.35 71.5 L1471.35 72.0 L1471.35 72.5 L1471.35 73.0 L1471.35 73.5 L1471.35 74.0 L1471.35 74.5 L1471.35 75.0 L1471.35 75.5 L1471.35 76.0 L1471.35 76.5 L1471.35 77.0 L1471.35 77.5 L1471.35 78.0 L1471.32 78.5 L1471.25 79.0 L1471.12 79.5 L1470.94 80.0 L1470.72 80.5 L1470.45 81.0 L1470.14 81.5 L1469.78 82.0 L1469.39 82.5 L1468.97 83.0 L1468.52 83.5 L1468.05 84.0 L1467.55 84.5 L1467.04 85.0 L1466.52 85.5 L1466.00 86.0 L1465.48 86.5 L1464.96 87.0 L1464.45 87.5 L1463.95 88.0 L1463.48 88.5 L1463.03 89.0 L1462.61 89.5 L1462.22 90.0 L1461.86 90.5 L1461.55 91.0 L1461.28 91.5 L1461.06 92.0 L1460.88 92.5 L1460.75 93.0 L1460.68 93.5 L1460.65 94.0 L1460.68 94.5 L1460.75 95.0 L1460.88 95.5 L1461.06 96.0 L1461.28 96.5 L1461.55 97.0 L1461.86 97.5 L1462.22 98.0 L1462.61 98.5 L1463.03 99.0 L1463.48 99.5 L1463.95 100.0 L1464.45 100.5 L1464.96 101.0 L1465.48 101.5 L1466.00 102.0 L1466.52 102.5 L1467.04 103.0 L1467.55 103.5 L1468.05 104.0 L1468.52 104.5 L1468.97 105.0 L1469.39 105.5 L1469.78 106.0 L1470.14 106.5 L1470.45 107.0 L1470.72 107.5 L1470.94 108.0 L1471.12 108.5 L1471.25 109.0 L1471.32 109.5 L1471.35 110.0 L1471.35 110.5 L1471.35 111.0 L1471.35 111.5 L1471.35 112.0 L1471.35 112.5 L1471.35 113.0 L1471.35 113.5 L1471.35 114.0 L1471.35 114.5 L1471.35 115.0 L1471.35 115.5 L1471.35 116.0 L1471.35 116.5 L1471.35 117.0 L1471.35 117.5 L1471.35 118.0 L1474.25 118.0 L1474.25 117.5 L1474.25 117.0 L1474.25 116.5 L1474.25 116.0 L1474.25 115.5 L1474.25 115.0 L1474.25 114.5 L1474.25 114.0 L1474.25 113.5 L1474.25 113.0 L1474.25 112.5 L1474.25 112.0 L1474.25 111.5 L1474.25 111.0 L1474.25 110.5 L1474.25 110.0 L1474.22 109.5 L1474.14 109.0 L1473.99 108.5 L1473.80 108.0 L1473.55 107.5 L1473.25 107.0 L1472.90 106.5 L1472.51 106.0 L1472.07 105.5 L1471.61 105.0 L1471.10 104.5 L1470.58 104.0 L1470.03 103.5 L1469.46 103.0 L1468.88 102.5 L1468.30 102.0 L1467.72 101.5 L1467.14 101.0 L1466.57 100.5 L1466.02 100.0 L1465.50 99.5 L1464.99 99.0 L1464.53 98.5 L1464.09 98.0 L1463.70 97.5 L1463.35 97.0 L1463.05 96.5 L1462.80 96.0 L1462.61 95.5 L1462.46 95.0 L1462.38 94.5 L1462.35 94.0 L1462.38 93.5 L1462.46 93.0 L1462.61 92.5 L1462.80 92.0 L1463.05 91.5 L1463.35 91.0 L1463.70 90.5 L1464.09 90.0 L1464.53 89.5 L1464.99 89.0 L1465.50 88.5 L1466.02 88.0 L1466.57 87.5 L1467.14 87.0 L1467.72 86.5 L1468.30 86.0 L1468.88 85.5 L1469.46 85.0 L1470.03 84.5 L1470.58 84.0 L1471.10 83.5 L1471.61 83.0 L1472.07 82.5 L1472.51 82.0 L1472.90 81.5 L1473.25 81.0 L1473.55 80.5 L1473.80 80.0 L1473.99 79.5 L1474.14 79.0 L1474.22 78.5 L1474.25 78.0 L1474.25 77.5 L1474.25 77.0 L1474.25 76.5 L1474.25 76.0 L1474.25 75.5 L1474.25 75.0 L1474.25 74.5 L1474.25 74.0 L1474.25 73.5 L1474.25 73.0 L1474.25 72.5 L1474.25 72.0 L1474.25 71.5 L1474.25 71.0 Z" fill="#FFE500"/>
<circle cx="1725.4" cy="103.8" r="91" fill="#fff" stroke="#6E44A6" stroke-width="3.4"/>
<circle cx="1725.4" cy="103.8" r="71.2" fill="#7249A8"/>
<circle cx="1644.3" cy="105.2" r="2.6" fill="#F39C12"/><circle cx="1804.8" cy="105.2" r="2.6" fill="#F39C12"/>
<g fill="none" stroke="#F5DC1E" stroke-width="2"><ellipse cx="1725.4" cy="104.5" rx="61" ry="19"/><ellipse cx="1725.4" cy="104.5" rx="64" ry="19" transform="rotate(50 1725.4 104.5)"/><ellipse cx="1725.4" cy="104.5" rx="64" ry="19" transform="rotate(-50 1725.4 104.5)"/></g>
<circle cx="1681.9" cy="69.7" r="4.2" fill="#F7941D"/>
<circle cx="1768.6" cy="71.8" r="4.2" fill="#F7941D"/>
<circle cx="1682.6" cy="136.5" r="4.2" fill="#F7941D"/>
<circle cx="1769.3" cy="139.3" r="4.2" fill="#F7941D"/>
<defs><linearGradient id="silv" x1="0" y1="0" x2="1" y2="0"><stop offset="0" stop-color="#A8A8B4"/><stop offset="0.5" stop-color="#F4F4F8"/><stop offset="1" stop-color="#9494A2"/></linearGradient><linearGradient id="gold" x1="0" y1="0" x2="1" y2="0"><stop offset="0" stop-color="#D49A12"/><stop offset="0.5" stop-color="#F8D040"/><stop offset="1" stop-color="#C88A10"/></linearGradient></defs>
<path d="M1725.3 42.7 C1733.5 60 1733 80 1729.5 97 L1721 97 C1717.5 80 1717 60 1725.3 42.7 Z" fill="url(#silv)"/>
<path d="M1706.5 53.5 C1699 70 1705 86 1719 95 L1721.5 90 C1711.5 83 1706 70 1706.5 53.5 Z" fill="url(#silv)"/>
<path d="M1744.1 53.5 C1751.6 70 1745.6 86 1731.6 95 L1729.1 90 C1739.1 83 1744.6 70 1744.1 53.5 Z" fill="url(#silv)"/>
<path d="M1714.5 97 L1736 97 L1734 110 L1732.5 112 L1733.5 150 L1731 160 L1725.3 166 L1719.6 160 L1717.1 150 L1718.1 112 L1716.5 110 Z" fill="url(#gold)"/>
<g stroke="#B07A08" stroke-width="0.8"><line x1="1718" y1="118" x2="1732.6" y2="118"/><line x1="1718" y1="126" x2="1732.6" y2="126"/><line x1="1718" y1="134" x2="1732.6" y2="134"/><line x1="1718" y1="142" x2="1732.6" y2="142"/><line x1="1718" y1="150" x2="1732.6" y2="150"/></g>
<defs><path id="ringT" d="M1649.8 95.9 A76 76 0 0 1 1801.0 95.9"/><path id="ringB" d="M1643.6 128.8 A85.5 85.5 0 0 0 1807.2 128.8"/></defs>
<text font-size="9.5" fill="#4A3A66" font-weight="500"><textPath href="#ringT" startOffset="50%" text-anchor="middle" textLength="220.2" lengthAdjust="spacingAndGlyphs">กระทรวงการอุดมศึกษา วิทยาศาสตร์ วิจัยและนวัตกรรม</textPath></text>
<text font-size="9.5" fill="#4A3A66" font-weight="400" style="font-family:'Liberation Sans',sans-serif"><textPath href="#ringB" startOffset="50%" text-anchor="middle" textLength="208.9" lengthAdjust="spacingAndGlyphs">Ministry of Higher Education, Science, Research and Innovation</textPath></text>
<text x="1721.5" y="254" font-size="10.6" fill="#4D4D4D" font-family="'Liberation Sans', sans-serif" text-anchor="middle" textLength="267" lengthAdjust="spacingAndGlyphs">Ministry of Higher Education, Science, Research and Innovation</text>
<rect x="629" y="160.5" width="591.5" height="66.5" rx="33.2" fill="#FFC000"/>
<rect x="153.5" y="340.4" width="1532" height="2.4" fill="#D9D9D9"/>
<rect x="153.5" y="445.2" width="1532" height="2.4" fill="#D9D9D9"/>
<rect x="153.5" y="549.9" width="1532" height="2.4" fill="#D9D9D9"/>
<rect x="153.5" y="654.6" width="1532" height="2.4" fill="#D9D9D9"/>
<rect x="153.5" y="759.4" width="1532" height="2.4" fill="#D9D9D9"/>
<rect x="153.5" y="864.1" width="1532" height="2.4" fill="#D9D9D9"/>
<rect x="153.5" y="968.9" width="1532" height="2.4" fill="#D9D9D9"/>
<rect x="153.5" y="1073.6" width="1532" height="2.4" fill="#D9D9D9"/>
<text x="130" y="346.4" font-size="24" font-weight="700" fill="#595959" text-anchor="end" style="font-family:'Liberation Sans',Arial,sans-serif">80,000,000</text>
<text x="130" y="451.1" font-size="24" font-weight="700" fill="#595959" text-anchor="end" style="font-family:'Liberation Sans',Arial,sans-serif">70,000,000</text>
<text x="130" y="555.9" font-size="24" font-weight="700" fill="#595959" text-anchor="end" style="font-family:'Liberation Sans',Arial,sans-serif">60,000,000</text>
<text x="130" y="660.6" font-size="24" font-weight="700" fill="#595959" text-anchor="end" style="font-family:'Liberation Sans',Arial,sans-serif">50,000,000</text>
<text x="130" y="765.4" font-size="24" font-weight="700" fill="#595959" text-anchor="end" style="font-family:'Liberation Sans',Arial,sans-serif">40,000,000</text>
<text x="130" y="870.1" font-size="24" font-weight="700" fill="#595959" text-anchor="end" style="font-family:'Liberation Sans',Arial,sans-serif">30,000,000</text>
<text x="130" y="974.9" font-size="24" font-weight="700" fill="#595959" text-anchor="end" style="font-family:'Liberation Sans',Arial,sans-serif">20,000,000</text>
<text x="130" y="1079.7" font-size="24" font-weight="700" fill="#595959" text-anchor="end" style="font-family:'Liberation Sans',Arial,sans-serif">10,000,000</text>
<text x="130" y="1184.4" font-size="24" font-weight="700" fill="#595959" text-anchor="end" style="font-family:'Liberation Sans',Arial,sans-serif">0</text>
<rect x="150.8" y="1185" width="166.4" height="77" fill="#E2EFDA"/>
<rect x="443.4" y="1185" width="153.6" height="77" fill="#E2EFDA"/>
<rect x="743.6" y="1185" width="167.7" height="77" fill="#E2EFDA"/>
<rect x="1063.8" y="1185" width="150.8" height="77" fill="#E2EFDA"/>
<rect x="1366.4" y="1185" width="148.8" height="77" fill="#E2EFDA"/>
<rect x="1661.8" y="1185" width="148.2" height="77" fill="#E2EFDA"/>
<text x="155.8" y="1215.6" font-size="23" font-weight="600" fill="#595959" text-anchor="middle">1</text>
<text x="185.5" y="1215.6" font-size="23" font-weight="600" fill="#595959" text-anchor="middle">7</text>
<text x="208.2 222.4" y="1215.6" font-size="23" font-weight="600" fill="#595959" text-anchor="middle">13</text>
<text x="237.9 252.1" y="1215.6" font-size="23" font-weight="600" fill="#595959" text-anchor="middle">19</text>
<text x="267.7 281.9" y="1215.6" font-size="23" font-weight="600" fill="#595959" text-anchor="middle">25</text>
<text x="297.4 311.6" y="1215.6" font-size="23" font-weight="600" fill="#595959" text-anchor="middle">31</text>
<text x="334.3" y="1215.6" font-size="23" font-weight="600" fill="#595959" text-anchor="middle">6</text>
<text x="356.9 371.1" y="1215.6" font-size="23" font-weight="600" fill="#595959" text-anchor="middle">12</text>
<text x="386.6 400.8" y="1215.6" font-size="23" font-weight="600" fill="#595959" text-anchor="middle">18</text>
<text x="416.4 430.6" y="1215.6" font-size="23" font-weight="600" fill="#595959" text-anchor="middle">24</text>
<text x="453.2" y="1215.6" font-size="23" font-weight="600" fill="#595959" text-anchor="middle">2</text>
<text x="483.0" y="1215.6" font-size="23" font-weight="600" fill="#595959" text-anchor="middle">8</text>
<text x="505.6 519.8" y="1215.6" font-size="23" font-weight="600" fill="#595959" text-anchor="middle">14</text>
<text x="535.3 549.5" y="1215.6" font-size="23" font-weight="600" fill="#595959" text-anchor="middle">20</text>
<text x="565.1 579.3" y="1215.6" font-size="23" font-weight="600" fill="#595959" text-anchor="middle">26</text>
<text x="601.9" y="1215.6" font-size="23" font-weight="600" fill="#595959" text-anchor="middle">1</text>
<text x="631.7" y="1215.6" font-size="23" font-weight="600" fill="#595959" text-anchor="middle">7</text>
<text x="654.3 668.5" y="1215.6" font-size="23" font-weight="600" fill="#595959" text-anchor="middle">13</text>
<text x="684.1 698.3" y="1215.6" font-size="23" font-weight="600" fill="#595959" text-anchor="middle">19</text>
<text x="713.8 728.0" y="1215.6" font-size="23" font-weight="600" fill="#595959" text-anchor="middle">25</text>
<text x="750.6" y="1215.6" font-size="23" font-weight="600" fill="#595959" text-anchor="middle">1</text>
<text x="780.4" y="1215.6" font-size="23" font-weight="600" fill="#595959" text-anchor="middle">7</text>
<text x="803.0 817.2" y="1215.6" font-size="23" font-weight="600" fill="#595959" text-anchor="middle">13</text>
<text x="832.8 847.0" y="1215.6" font-size="23" font-weight="600" fill="#595959" text-anchor="middle">19</text>
<text x="862.5 876.7" y="1215.6" font-size="23" font-weight="600" fill="#595959" text-anchor="middle">25</text>
<text x="892.2 906.4" y="1215.6" font-size="23" font-weight="600" fill="#595959" text-anchor="middle">31</text>
<text x="929.1" y="1215.6" font-size="23" font-weight="600" fill="#595959" text-anchor="middle">6</text>
<text x="951.7 965.9" y="1215.6" font-size="23" font-weight="600" fill="#595959" text-anchor="middle">12</text>
<text x="981.5 995.7" y="1215.6" font-size="23" font-weight="600" fill="#595959" text-anchor="middle">18</text>
<text x="1011.2 1025.4" y="1215.6" font-size="23" font-weight="600" fill="#595959" text-anchor="middle">24</text>
<text x="1041.0 1055.2" y="1215.6" font-size="23" font-weight="600" fill="#595959" text-anchor="middle">30</text>
<text x="1077.8" y="1215.6" font-size="23" font-weight="600" fill="#595959" text-anchor="middle">6</text>
<text x="1100.4 1114.6" y="1215.6" font-size="23" font-weight="600" fill="#595959" text-anchor="middle">12</text>
<text x="1130.2 1144.4" y="1215.6" font-size="23" font-weight="600" fill="#595959" text-anchor="middle">18</text>
<text x="1159.9 1174.1" y="1215.6" font-size="23" font-weight="600" fill="#595959" text-anchor="middle">24</text>
<text x="1189.7 1203.9" y="1215.6" font-size="23" font-weight="600" fill="#595959" text-anchor="middle">30</text>
<text x="1226.5" y="1215.6" font-size="23" font-weight="600" fill="#595959" text-anchor="middle">5</text>
<text x="1249.2 1263.4" y="1215.6" font-size="23" font-weight="600" fill="#595959" text-anchor="middle">11</text>
<text x="1278.9 1293.1" y="1215.6" font-size="23" font-weight="600" fill="#595959" text-anchor="middle">17</text>
<text x="1308.6 1322.8" y="1215.6" font-size="23" font-weight="600" fill="#595959" text-anchor="middle">23</text>
<text x="1338.4 1352.6" y="1215.6" font-size="23" font-weight="600" fill="#595959" text-anchor="middle">29</text>
<text x="1375.2" y="1215.6" font-size="23" font-weight="600" fill="#595959" text-anchor="middle">4</text>
<text x="1397.9 1412.1" y="1215.6" font-size="23" font-weight="600" fill="#595959" text-anchor="middle">10</text>
<text x="1427.6 1441.8" y="1215.6" font-size="23" font-weight="600" fill="#595959" text-anchor="middle">16</text>
<text x="1457.3 1471.5" y="1215.6" font-size="23" font-weight="600" fill="#595959" text-anchor="middle">22</text>
<text x="1487.1 1501.3" y="1215.6" font-size="23" font-weight="600" fill="#595959" text-anchor="middle">28</text>
<text x="1523.9" y="1215.6" font-size="23" font-weight="600" fill="#595959" text-anchor="middle">4</text>
<text x="1546.6 1560.8" y="1215.6" font-size="23" font-weight="600" fill="#595959" text-anchor="middle">10</text>
<text x="1576.3 1590.5" y="1215.6" font-size="23" font-weight="600" fill="#595959" text-anchor="middle">16</text>
<text x="1606.1 1620.3" y="1215.6" font-size="23" font-weight="600" fill="#595959" text-anchor="middle">22</text>
<text x="1635.8 1650.0" y="1215.6" font-size="23" font-weight="600" fill="#595959" text-anchor="middle">28</text>
<text x="1672.6" y="1215.6" font-size="23" font-weight="600" fill="#595959" text-anchor="middle">3</text>
<text x="180.9" y="1257" font-size="32.8" font-weight="700" fill="#000" textLength="96.3" lengthAdjust="spacingAndGlyphs">ม.ค.64</text>
<text x="335.2" y="1257" font-size="32.8" font-weight="700" fill="#000" textLength="97.0" lengthAdjust="spacingAndGlyphs">ก.พ.64</text>
<text x="477.9" y="1257" font-size="32.8" font-weight="700" fill="#000" textLength="96.3" lengthAdjust="spacingAndGlyphs">มี.ค.64</text>
<text x="620.2" y="1257" font-size="32.8" font-weight="700" fill="#000" textLength="105.1" lengthAdjust="spacingAndGlyphs">เม.ย.64</text>
<text x="783.9" y="1257" font-size="32.8" font-weight="700" fill="#000" textLength="96.9" lengthAdjust="spacingAndGlyphs">พ.ค.64</text>
<text x="937.7" y="1257" font-size="32.8" font-weight="700" fill="#000" textLength="96.8" lengthAdjust="spacingAndGlyphs">มิ.ย.64</text>
<text x="1091.7" y="1257" font-size="32.8" font-weight="700" fill="#000" textLength="96.1" lengthAdjust="spacingAndGlyphs">ก.ค.64</text>
<text x="1245.1" y="1257" font-size="32.8" font-weight="700" fill="#000" textLength="94.2" lengthAdjust="spacingAndGlyphs">ส.ค.64</text>
<text x="1397.5" y="1257" font-size="32.8" font-weight="700" fill="#000" textLength="95.3" lengthAdjust="spacingAndGlyphs">ก.ย.64</text>
<text x="1539.0" y="1257" font-size="32.8" font-weight="700" fill="#000" textLength="95.4" lengthAdjust="spacingAndGlyphs">ต.ค.64</text>
<text x="1669.0" y="1257" font-size="32.8" font-weight="700" fill="#000" textLength="98.6" lengthAdjust="spacingAndGlyphs">พ.ย.64</text>
<g clip-path="url(#plot)" fill="none" stroke-linejoin="round" stroke-linecap="round">
<polyline points="158.5,1179.3 300.0,1178.0 385.0,1176.5 444.0,1174.0 520.0,1172.8 557.0,1170.5 591.0,1167.3 600.0,1166.0 637.0,1163.0 687.0,1162.4 692.0,1156.6 740.0,1156.0 800.0,1147.0 900.0,1142.0 967.0,1135.5 989.6,1131.0 1012.0,1127.0 1034.4,1126.2 1056.8,1120.6 1079.2,1116.2 1101.6,1114.0 1124.0,1109.4 1146.4,1103.8 1168.8,1099.4 1191.2,1096.0 1213.6,1093.8 1236.0,1091.5 1258.4,1087.5 1280.8,1086.0 1300.0,1087.0 1364.0,1085.5 1449.3,1082.7 1483.5,1081.6 1556.0,1079.5 1620.0,1075.2 1681.0,1073.0 1692.0,1073.0" stroke="#4472C4" stroke-width="13.3"/>
<polyline points="213.7,1179.3 262.0,1179.3 290.0,1175.5 320.0,1171.5 345.0,1168.5 370.0,1164.0 400.0,1159.4 420.0,1155.8 455.0,1144.0 475.0,1140.6 500.0,1130.0 520.0,1121.0 542.5,1101.0 559.6,1088.0 576.6,1071.0 602.0,1052.0 619.0,1045.6 653.0,1015.7 683.0,1003.0 704.6,990.0 726.0,981.6 734.5,968.8 751.5,966.6 777.0,949.6 798.5,941.0 819.8,941.0 837.0,930.0 854.0,919.7 875.0,902.6 901.0,889.8 926.5,875.0 950.8,846.0 964.7,841.4 987.8,809.0 999.3,804.4 1020.0,772.0 1031.7,756.0 1043.2,726.0 1057.0,700.5 1068.6,691.2 1089.4,645.0 1108.0,640.4 1112.5,601.0 1124.0,580.3 1135.6,566.5 1147.2,559.6 1156.4,538.8 1168.0,529.5 1191.0,481.0 1202.6,467.0 1223.4,432.5 1228.0,416.3 1237.3,397.8 1248.8,363.2 1258.0,356.3 1265.0,317.0 1276.5,317.0 1283.5,291.6 1290.0,265.0" stroke="#FFC000" stroke-width="13.3"/>
<polyline points="283.6,1179.3 348.0,1179.3 440.0,1177.0 602.0,1170.0 664.0,1168.0 760.0,1160.0 900.0,1149.0 1040.0,1148.5 1048.0,1144.8 1124.0,1144.0 1236.0,1141.0 1305.0,1139.5 1311.0,1139.5 1313.0,1112.0 1353.3,1109.3 1370.4,1107.2 1379.0,1100.8 1398.1,1096.5 1432.3,1090.1 1449.3,1085.9 1464.3,1079.5 1475.0,1075.2 1481.3,1062.4 1502.7,1058.1 1517.6,1048.5 1534.7,1047.5 1547.5,1045.3 1553.9,1032.5 1562.4,1024.0 1575.2,1024.0 1583.7,1013.3 1598.7,1013.3 1605.0,1000.5 1615.7,989.9 1624.3,987.7 1632.8,977.0 1652.0,977.0 1658.4,966.4 1680.0,962.0 1692.0,962.0" stroke="#9B3FCF" stroke-width="13.3"/>
<polyline points="352.3,1179.3 433.0,1179.3 500.0,1177.0 560.0,1173.0 692.0,1162.4 730.0,1159.0 790.0,1148.8 845.0,1142.0 900.0,1136.0 956.0,1129.6 989.6,1116.2 1012.0,1114.0 1034.4,1107.2 1056.8,1100.5 1079.2,1088.7 1101.6,1081.8 1124.0,1074.0 1146.4,1066.0 1168.8,1059.4 1191.2,1055.7 1213.6,1045.0 1229.0,1033.6 1244.0,1024.6 1259.0,1014.2 1281.3,1000.7 1303.7,988.8 1322.7,980.2 1345.5,973.3 1368.2,964.3 1391.0,955.2 1413.7,950.6 1431.9,943.8 1447.8,934.7 1470.6,923.3 1493.3,916.5 1516.0,914.2 1538.8,914.2 1550.1,909.7 1572.9,893.8 1595.6,884.7 1618.4,882.4 1641.0,880.0 1663.8,877.8 1681.0,875.6 1692.0,875.6" stroke="#92D050" stroke-width="13.3"/>
<polyline points="437.0,1179.3 560.0,1175.0 602.0,1170.0 664.0,1168.0 760.0,1168.0 846.0,1165.0 886.0,1157.0 930.0,1145.0 960.0,1135.5 1000.0,1121.0 1040.0,1106.0 1056.8,1091.5 1079.2,1080.3 1101.6,1064.6 1124.0,1046.7 1132.0,1041.0 1160.4,999.3 1191.8,969.4 1229.0,929.0 1271.0,891.8 1298.0,855.0 1322.7,836.9 1345.5,818.7 1368.2,802.8 1391.0,789.2 1413.7,775.5 1436.4,764.1 1459.2,750.5 1482.0,736.9 1504.7,723.2 1527.4,712.0 1550.1,702.0 1572.9,693.0 1584.2,690.0 1590.3,678.0 1605.6,670.3 1630.0,664.2 1648.4,658.0 1666.7,653.5 1680.0,652.0 1692.0,652.0" stroke="#FF33CC" stroke-width="13.3"/>
<polyline points="446.3,1179.3 480.0,1179.3 560.0,1177.0 690.0,1178.0 700.0,1178.0 730.0,1176.0 760.0,1174.2 790.0,1170.3 820.0,1165.0 840.0,1160.7 860.0,1151.8 875.0,1147.5 900.0,1141.4 930.0,1133.0 945.0,1125.0 967.0,1116.0 990.0,1107.0 1012.0,1096.0 1034.0,1086.1 1057.0,1077.6 1079.0,1066.4 1095.0,1058.5 1110.0,1051.0 1125.0,1042.0 1140.0,1034.6 1154.5,1025.6 1166.4,1018.2 1178.4,1009.2 1187.3,1003.3 1199.3,992.8 1211.2,985.1 1221.6,978.4 1232.0,966.4 1244.0,954.5 1256.0,942.5 1265.0,933.6 1274.0,929.0 1283.0,918.7 1295.0,903.7 1303.7,894.8 1312.7,891.8 1320.0,885.8 1329.6,871.0 1341.0,857.4 1350.0,841.5 1356.9,821.0 1368.2,802.8 1381.9,786.9 1395.5,771.0 1406.9,755.0 1422.8,741.4 1431.9,727.8 1445.5,714.1 1452.0,705.0 1459.0,697.0 1471.0,668.0 1483.3,649.0 1498.6,621.4 1507.8,603.0 1520.0,594.0 1538.4,563.4 1544.5,554.0 1562.8,526.7 1575.0,508.3 1590.3,484.0 1605.6,459.5 1624.0,447.0 1636.0,429.0 1648.4,404.5 1660.6,392.2 1676.0,361.7 1679.0,345.0 1692.0,345.0" stroke="#FF0000" stroke-width="19"/>
<polyline points="451.7,1179.3 482.0,1179.3 530.0,1175.0 560.0,1173.5 600.0,1170.0 640.0,1168.0 665.0,1166.5 695.0,1164.7 728.0,1162.0 760.0,1159.8 780.0,1155.0 800.0,1153.4 815.0,1149.6 840.0,1145.7 846.0,1144.5 850.0,1139.0 865.0,1133.2 881.0,1132.6 885.0,1127.0 917.0,1123.5 921.0,1119.3 930.0,1119.8 945.0,1113.0 967.0,1106.5 990.0,1096.4 1012.0,1083.8 1034.0,1074.4 1057.0,1061.1 1079.0,1049.0 1102.0,1042.2 1117.0,1034.0 1132.0,1031.0 1134.0,1023.0 1147.0,1014.0 1162.0,1003.7 1169.0,996.3 1181.0,985.8 1192.0,977.0 1199.0,972.4 1208.0,960.4 1217.0,948.5 1226.0,938.0 1235.0,936.6 1240.0,924.6 1248.5,918.7 1253.0,909.7 1259.0,905.2 1272.4,905.2 1275.4,888.8 1283.0,882.8 1289.0,877.0 1302.0,874.0 1304.5,870.0 1311.4,857.4 1322.7,848.3 1341.0,849.0 1345.5,839.2 1354.6,825.5 1366.0,823.3 1377.3,816.4 1386.4,800.5 1400.0,784.6 1411.4,784.6 1413.7,775.5 1427.3,761.9 1436.4,752.8 1445.5,746.0 1454.6,746.0 1463.7,739.1 1472.8,725.5 1482.0,721.0 1500.0,702.7 1509.2,696.0 1518.3,684.5 1529.2,679.5 1541.4,668.8 1550.6,667.3 1562.8,649.0 1575.0,636.7 1587.2,636.7 1599.5,618.4 1611.7,603.0 1620.9,597.0 1633.0,584.7 1645.3,568.0 1654.5,560.3 1665.0,557.0 1669.7,535.8 1678.0,528.0 1692.0,528.0" stroke="#002060" stroke-width="13.3"/>
<polyline points="486.0,1179.3 521.0,1179.3 560.0,1177.0 733.0,1173.0 790.0,1170.4 930.0,1164.7 980.0,1159.0 1020.0,1148.0 1050.0,1141.2 1070.0,1139.0 1101.6,1136.0 1146.4,1134.0 1173.3,1132.6 1191.2,1118.4 1213.6,1102.7 1227.0,1091.5 1236.0,1084.8 1245.0,1073.6 1250.0,1060.0 1256.0,1048.5 1262.0,1044.0 1266.4,1035.0 1273.9,1029.1 1282.8,1023.1 1291.8,1008.2 1310.0,1008.0 1314.0,999.0 1325.6,992.0 1341.0,975.6 1354.6,968.8 1366.0,959.7 1379.6,952.9 1391.0,939.2 1400.0,921.0 1409.2,896.0 1413.7,874.4 1420.5,871.0 1427.3,855.0 1436.4,837.0 1447.8,823.3 1463.7,807.3 1475.0,793.7 1479.6,777.8 1488.7,775.5 1500.0,748.2 1509.2,723.2 1518.3,718.7 1527.4,702.7 1533.0,678.0 1544.5,642.8 1559.7,606.0 1572.0,575.6 1581.0,548.0 1588.8,539.0 1593.4,511.4 1598.0,484.0 1605.6,459.5 1617.8,429.0 1630.0,401.4 1642.2,370.8 1651.4,331.0 1663.6,322.0 1677.4,289.9 1682.0,275.0 1692.0,275.0" stroke="#9A7300" stroke-width="13.3"/>
<polyline points="526.5,1179.3 625.0,1179.3 700.0,1177.0 800.0,1173.5 930.0,1168.0 1050.0,1164.5 1101.6,1163.0 1168.8,1161.0 1202.4,1159.8 1236.0,1152.0 1258.4,1147.5 1280.8,1144.2 1300.0,1143.5 1332.0,1141.3 1385.3,1138.1 1470.7,1132.8 1560.3,1126.4 1641.3,1117.9 1681.0,1113.6 1692.0,1113.6" stroke="#00B050" stroke-width="13.3"/>
<polyline points="630.0,1179.3 1000.0,1178.8 1320.0,1175.0 1681.0,1172.5 1692.0,1172.5" stroke="#CC0066" stroke-width="13.3"/>
</g>
<path fill-rule="evenodd" fill="#57D38C" d="M268.5 299 H741.5 A99.5 99.5 0 0 1 741.5 498 H268.5 A99.5 99.5 0 0 1 268.5 299 Z M279.3 321.7 H729 A74.35 74.35 0 0 1 729 470.4 H279.3 A74.35 74.35 0 0 1 279.3 321.7 Z"/>
<path fill="#fff" d="M279.3 321.7 H729 A74.35 74.35 0 0 1 729 470.4 H279.3 A74.35 74.35 0 0 1 279.3 321.7 Z"/>
<rect x="0" y="1336.4" width="1875" height="71" fill="#7030A0"/>
<text x="204.7" y="100.4" font-size="65" font-weight="600" fill="#000" textLength="934.1" lengthAdjust="spacingAndGlyphs">ข้อมูลการฉีดวัคซีนในภูมิภาคอาเซียน</text>
<text x="10.4" y="209.4" font-size="49" font-weight="600" fill="#000" textLength="415.5" lengthAdjust="spacingAndGlyphs">จำนวนที่ฉีดแล้ว (โดส)</text>
<text x="7.1" y="253.6" font-size="45" font-weight="500" fill="#878787" textLength="285.5" lengthAdjust="spacingAndGlyphs">(Linear scale)</text>
<text x="690.3" y="205.8" font-size="46.6" font-weight="600" fill="#000" textLength="511.6" lengthAdjust="spacingAndGlyphs">ณ วันที่ 6 พฤศจิกายน 2564</text>
<text x="230.4" y="363.9" font-size="41" font-weight="700" fill="#000" textLength="143.4" lengthAdjust="spacingAndGlyphs">รวมแล้ว</text>
<text x="231.0" y="452.3" font-size="81" font-weight="600" fill="#7030A0" textLength="476.4" lengthAdjust="spacingAndGlyphs">547,947,929</text>
<text x="735.1" y="450.0" font-size="44" font-weight="700" fill="#000" textLength="60.9" lengthAdjust="spacingAndGlyphs">โดส</text>
<text x="983.2" y="300.8" font-size="40.7" font-weight="700" fill="#FFC000" textLength="174.3" lengthAdjust="spacingAndGlyphs">อินโดนีเซีย</text>
<text x="936.1" y="337.1" font-size="32.2" font-weight="700" fill="#000" textLength="208.0" lengthAdjust="spacingAndGlyphs">202,270,239</text>
<text x="1158.9" y="337.1" font-size="32.2" font-weight="700" fill="#000" textLength="43.0" lengthAdjust="spacingAndGlyphs">โดส</text>
<text x="1445.6" y="294.4" font-size="40.7" font-weight="700" fill="#9A7300" textLength="154.6" lengthAdjust="spacingAndGlyphs">เวียดนาม</text>
<text x="1400.1" y="331.2" font-size="32.9" font-weight="700" fill="#000" textLength="184.6" lengthAdjust="spacingAndGlyphs">86,319,808</text>
<text x="1599.7" y="331.2" font-size="32.9" font-weight="700" fill="#000" textLength="44.6" lengthAdjust="spacingAndGlyphs">โดส</text>
<text x="1388.1" y="398.6" font-size="66" font-weight="700" fill="#FF0000" textLength="95.5" lengthAdjust="spacingAndGlyphs">ไทย</text>
<text x="1320.3" y="447.7" font-size="37.8" font-weight="700" fill="#FF0000" textLength="213.0" lengthAdjust="spacingAndGlyphs">79,517,972</text>
<text x="1548.7" y="447.7" font-size="37.8" font-weight="700" fill="#FF0000" textLength="54.3" lengthAdjust="spacingAndGlyphs">โดส</text>
<text x="1320.8" y="487.9" font-size="37.4" font-weight="700" fill="#FF0000" textLength="199.5" lengthAdjust="spacingAndGlyphs">(+861,848)</text>
<text x="1670.3" y="474.3" font-size="40.5" font-weight="700" fill="#1F2F6B" textLength="149.2" lengthAdjust="spacingAndGlyphs">ฟิลิปปินส์</text>
<text x="1620.9" y="512.5" font-size="31" font-weight="700" fill="#000" textLength="186.6" lengthAdjust="spacingAndGlyphs">62,474,334</text>
<text x="1821.1" y="512.5" font-size="31" font-weight="700" fill="#000" textLength="46.2" lengthAdjust="spacingAndGlyphs">โดส</text>
<text x="1704.5" y="611.4" font-size="40.5" font-weight="700" fill="#FF33CC" textLength="139.3" lengthAdjust="spacingAndGlyphs">มาเลเซีย</text>
<text x="1681.7" y="648.5" font-size="31" font-weight="700" fill="#000" textLength="183.8" lengthAdjust="spacingAndGlyphs">50,462,307</text>
<text x="1752.0" y="682.5" font-size="31" font-weight="700" fill="#000" textLength="45.1" lengthAdjust="spacingAndGlyphs">โดส</text>
<text x="1675.2" y="827.0" font-size="40.5" font-weight="700" fill="#70AD47" textLength="118.2" lengthAdjust="spacingAndGlyphs">กัมพูชา</text>
<text x="1610.4" y="862.5" font-size="33" font-weight="700" fill="#000" textLength="187.2" lengthAdjust="spacingAndGlyphs">29,020,304</text>
<text x="1809.3" y="862.5" font-size="33" font-weight="700" fill="#000" textLength="46.8" lengthAdjust="spacingAndGlyphs">โดส</text>
<text x="1645.9" y="918.0" font-size="40.5" font-weight="700" fill="#9B3FCF" textLength="67.7" lengthAdjust="spacingAndGlyphs">พม่า</text>
<text x="1556.9" y="953.5" font-size="31" font-weight="700" fill="#000" textLength="187.3" lengthAdjust="spacingAndGlyphs">20,884,949</text>
<text x="1756.7" y="953.5" font-size="31" font-weight="700" fill="#000" textLength="46.7" lengthAdjust="spacingAndGlyphs">โดส</text>
<text x="1735.5" y="996.0" font-size="40.5" font-weight="700" fill="#0070C0" textLength="130.3" lengthAdjust="spacingAndGlyphs">สิงคโปร์</text>
<text x="1621.8" y="1033.0" font-size="31" font-weight="700" fill="#000" textLength="185.0" lengthAdjust="spacingAndGlyphs">10,094,499</text>
<text x="1817.9" y="1033.0" font-size="31" font-weight="700" fill="#000" textLength="46.7" lengthAdjust="spacingAndGlyphs">โดส</text>
<text x="1712.7" y="1067.2" font-size="40.5" font-weight="700" fill="#00B050" textLength="64.3" lengthAdjust="spacingAndGlyphs">ลาว</text>
<text x="1631.7" y="1105.6" font-size="31" font-weight="700" fill="#000" textLength="165.2" lengthAdjust="spacingAndGlyphs">6,270,053</text>
<text x="1809.3" y="1105.6" font-size="31" font-weight="700" fill="#000" textLength="46.8" lengthAdjust="spacingAndGlyphs">โดส</text>
<text x="1559.7" y="1161.0" font-size="40.5" font-weight="700" fill="#CC0066" textLength="84.2" lengthAdjust="spacingAndGlyphs">บรูไน</text>
<text x="1661.6" y="1162.5" font-size="31" font-weight="700" fill="#000" textLength="134.5" lengthAdjust="spacingAndGlyphs">633,464</text>
<text x="1809.3" y="1162.5" font-size="31" font-weight="700" fill="#000" textLength="46.8" lengthAdjust="spacingAndGlyphs">โดส</text>
<text x="27.2" y="1322.6" font-size="29" font-weight="600" fill="#000" textLength="682.2" lengthAdjust="spacingAndGlyphs">ที่มา : Bloomberg, Covidvax.live 6 พฤศจิกายน 2564</text>
<text x="1512.4" y="1327.8" font-size="39.4" font-weight="700" fill="#000" textLength="337.5" lengthAdjust="spacingAndGlyphs">หน้า 10 ของ 15 หน้า</text>
<text x="33.8" y="1385.2" font-size="41.5" font-weight="600" fill="#fff" textLength="835.1" lengthAdjust="spacingAndGlyphs">กระทรวงการอุดมศึกษา วิทยาศาสตร์ วิจัยและนวัตกรรม</text>
<text x="1782.5" y="1386.0" font-size="40" font-weight="600" fill="#fff" textLength="59.8" lengthAdjust="spacingAndGlyphs">อว.</text>
<text x="1627.2" y="217.5" font-size="22" font-weight="500" fill="#4D4D4D" textLength="191.9" lengthAdjust="spacingAndGlyphs">กระทรวงการอุดมศึกษา</text>
<text x="1585.9" y="239.5" font-size="22" font-weight="500" fill="#4D4D4D" textLength="270.4" lengthAdjust="spacingAndGlyphs">วิทยาศาสตร์ วิจัยและนวัตกรรม</text>
</svg></body></html>
